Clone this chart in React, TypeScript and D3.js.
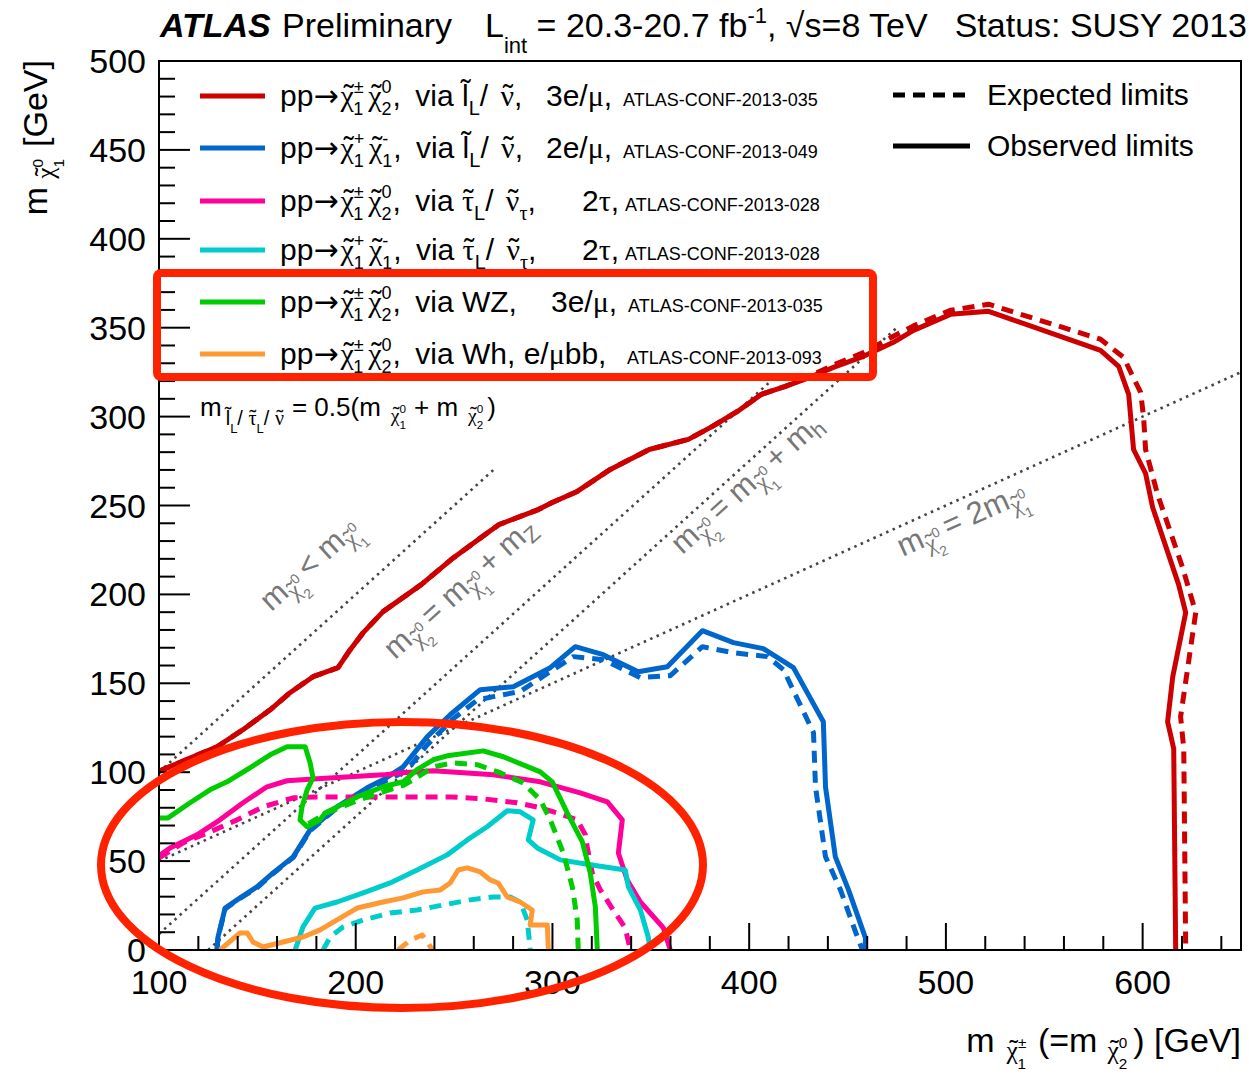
import React from "react";
import * as d3 from "d3";

// ---------- data (GeV) ----------
const X_DOMAIN = [100, 650];
const Y_DOMAIN = [0, 500];
const X_MAJOR = [100, 200, 300, 400, 500, 600];
const Y_MAJOR = [0, 50, 100, 150, 200, 250, 300, 350, 400, 450, 500];

const RED_OBS = [[100,100.5],[115.8,108],[129.5,114.3],[142.7,123.9],[156.5,135.1],[166.6,144.7],[178.3,153.7],[191,158.8],[197.2,168.9],[203.8,178.5],[213.9,190.3],[233.3,205.5],[248.5,219.6],[267.9,235.4],[272.9,239.3],[292.8,247.7],[299.9,251.7],[312.6,257.9],[329.4,270.3],[349.2,281.5],[369.1,287.2],[381.3,294.5],[394,302.9],[406.2,312.5],[418.4,317],[428.1,320.9],[442.8,327.7],[458.1,333.9],[473.3,341.8],[483.5,348.5],[502.3,357.5],[521.7,359.2],[578.6,337.3],[587.8,328.3],[592.9,312.5],[595.4,281.5],[601.5,268],[605.1,248.9],[618.3,205.5],[621.9,189.8],[615.3,153.7],[612.7,128.4],[615.8,113.2],[616.8,0]];
const RED_EXP = [[100,100.5],[115.8,108],[129.5,114.3],[142.7,123.9],[156.5,135.1],[166.6,144.7],[178.3,153.7],[191,158.8],[197.2,168.9],[203.8,178.5],[213.9,190.3],[233.3,205.5],[248.5,219.6],[267.9,235.4],[272.9,239.3],[292.8,247.7],[299.9,251.7],[312.6,257.9],[329.4,270.3],[349.2,281.5],[369.1,287.2],[381.3,294.5],[394,302.9],[406.2,312.5],[418.4,317],[428.1,321.5],[442.8,329],[458.1,336],[473.3,345.2],[483.5,351],[502.3,359.8],[521.7,363.2],[578.6,343.5],[590.3,333.3],[599,313.6],[600.5,299.5],[601.5,281.5],[607.6,256.2],[620.3,215.1],[627,189.8],[619.3,131.2],[620.9,113.2],[621.9,0]];

const BLUE_OBS = [[129.5,0],[130,7.3],[133.6,23.6],[139.7,28.2],[149.8,35.5],[158,43.4],[168.2,52.4],[176.8,67.6],[190.5,80.5],[205.8,91.2],[213.9,95.7],[224.1,103],[236.3,119.9],[248,132.3],[263.3,146.4],[280.1,148.1],[298.9,158.8],[311.6,170.6],[325.8,166.1],[343.6,156.5],[358.4,159.3],[376.2,179.6],[392,172.9],[407.2,169.5],[422.5,158.8],[437.7,128.4],[438.8,91.8],[443.8,52.4],[450.5,33.8],[459.1,6.8],[459.1,0]];
const BLUE_EXP = [[129.5,0],[130,7],[133.6,23],[139.7,28],[149.8,35],[158,43],[168.2,52],[176.8,67],[190.5,80],[205.8,90.5],[214,94.5],[226,101],[236,115],[249.5,130],[261.7,140.5],[269.9,142.5],[283.6,145.4],[297.4,155.5],[310.6,165],[325.8,163.3],[344.7,153.2],[359.9,154.3],[376.2,170.6],[392,167.2],[409.3,165],[417.4,157.7],[432.7,122.2],[433.7,91.8],[438.8,52.4],[446.4,33.8],[455,7.3],[457.6,0]];

const PINK_OBS = [[100,53],[105.6,57.4],[119.3,64.8],[131,73.2],[142.7,82.8],[154.9,91.8],[165.1,95.2],[180.4,96.3],[197.2,97.4],[213.9,98.5],[224.1,99.7],[239.4,100.8],[269.9,98.5],[293.8,94.6],[314.1,88.4],[327.9,83.3],[335.5,73.2],[333.5,54.6],[338,39.4],[344.7,27],[356.4,12.4],[359.9,0]];
const PINK_EXP = [[100,51.8],[112.2,60.2],[125.9,66.4],[139.7,73.2],[152.9,80.5],[168.2,85.6],[180.4,86.1],[213.9,86.1],[248,86.1],[264.8,85],[282.1,82.8],[293.8,80],[302.4,77.1],[312.6,73.2],[316.7,64.8],[317.7,58],[320.2,43.4],[324.3,33.8],[330.9,22.5],[337,12.4],[339.6,0]];

const CYAN_OBS = [[169.2,0],[173.2,13],[179.3,23.6],[190.5,27],[203.8,32.1],[217.5,37.7],[231.2,45],[246.5,53.5],[256.7,61.9],[266.8,69.3],[277,78.3],[283.6,77.7],[290.2,73.2],[287.7,61.9],[292.3,57.4],[304,50.7],[319.2,47.9],[337,45],[338.6,35.5],[344.7,22.5],[348.7,7.3],[349.7,0]];
const CYAN_EXP = [[183.4,0],[187,7.3],[193.6,13],[203.8,16.9],[217.5,20.8],[231.2,22.5],[244.5,25.3],[258.2,28.2],[269.9,29.8],[278.5,29.8],[283.6,27],[287.2,16.9],[288.7,0]];

const GREEN_OBS = [[100,74.3],[104.6,74.3],[115.8,82.8],[125.9,90.1],[134.6,94.6],[146.3,102.5],[156.5,109.8],[165.1,114.3],[174.3,114.3],[176.8,105.3],[178.3,96.8],[175.3,90.1],[172.7,80.5],[171.7,73.2],[175.3,69.3],[181.9,73.2],[184.4,77.1],[190.5,80.5],[200.7,86.1],[213.9,91.8],[224.1,94.6],[231.2,101.4],[239.4,107],[246.5,109.2],[264.8,112],[275,108.7],[293.8,100.2],[299.9,94.6],[307.5,77.1],[315.2,60.8],[319.2,43.4],[321.8,24.2],[322.8,0]];
const GREEN_EXP = [[176,71],[185,77],[200.7,84],[214,89],[224,92.5],[229.2,95.7],[239.4,103],[249.5,105.3],[261.7,104.2],[273.4,99.7],[285.1,94],[293.8,84.5],[298.9,73.2],[305.5,54.6],[310.1,35.5],[312.6,16.9],[313.1,0]];

const ORANGE_OBS = [[131,0],[141.2,9.6],[144.8,9.6],[147.8,4.5],[152.9,1.7],[163.1,4.5],[173.2,7.3],[181.9,11.3],[190.5,16.9],[200.7,23.6],[213.9,27],[224.1,29.3],[234.3,32.7],[243,33.8],[248,37.7],[252.1,45],[256.7,46.2],[263.3,43.9],[268.4,39.4],[272.4,37.7],[277,29.8],[283.6,27],[289.7,22.5],[288.7,14.1],[297.4,14.1],[297.9,0]];
const ORANGE_EXP = [[221.6,0],[227.7,5.6],[233.8,8.4],[236.8,3.9],[238.9,0]];

// kinematic reference lines
const LINE_EQUAL = [[100,100],[270,270]];
const LINE_MZ = [[100,9],[411,320]];
const LINE_MH = [[125,0],[475,350]];
const LINE_TWICE = [[100,50],[650,325]];

const COLORS = {
  red: "#cc0000",
  blue: "#0066cc",
  pink: "#ff0099",
  cyan: "#00cccc",
  green: "#00cc00",
  orange: "#ff9933",
};

const CONF_LABELS = [
  "ATLAS-CONF-2013-035",
  "ATLAS-CONF-2013-049",
  "ATLAS-CONF-2013-028",
  "ATLAS-CONF-2013-028",
  "ATLAS-CONF-2013-035",
  "ATLAS-CONF-2013-093",
];

// ---------- layout ----------
const W = 1249, H = 1076;
const PL = 159, PR = 1241, PT = 61, PB = 950;
const SANS = "'Liberation Sans', Arial, Helvetica, sans-serif";
const SERIF = "'Liberation Serif', 'Times New Roman', serif";

const xS = d3.scaleLinear().domain(X_DOMAIN).range([PL, PR]);
const yS = d3.scaleLinear().domain(Y_DOMAIN).range([PB, PT]);
const line = d3.line<number[]>().x(d => xS(d[0])).y(d => yS(d[1]));

const widthOf = (s: string, f: number) =>
  (({ "±": 0.584, "+": 0.584, "-": 0.333, "0": 0.556 } as any)[s] ?? 0.556) * f;

const GW: any = { "χ": 0.55, "ν": 0.5, "τ": 0.44 };
const TW = 0.333; // width of "˜" in em

// Greek letter with a tilde drawn above it (tilde first, then glyph pulled back under it)
function tilde(ch: string, fs: number, dx0 = 0, shift = 0) {
  const w = GW[ch] ?? 0.5;
  const off = (w - TW) / 2;
  return (
    <>
      <tspan fontFamily={SANS} fontSize={fs} baselineShift={shift + fs * 0.05} dx={dx0 + off * fs}>˜</tspan>
      <tspan fontFamily={SERIF} fontSize={fs} baselineShift={shift} dx={-(off + TW) * fs}>{ch}</tspan>
    </>
  );
}

// chi with stacked super/subscript, at normal size
function chi(fs: number, sup: string, sub: string, dx0 = 0) {
  const f = fs * 0.6;
  return (
    <>
      {tilde("χ", fs, dx0)}
      <tspan fontSize={f} baselineShift={fs * 0.45}>{sup}</tspan>
      <tspan fontSize={f} baselineShift={-fs * 0.3} dx={-widthOf(sup, f)}>{sub}</tspan>
    </>
  );
}
// chi used as a subscript of m
function subChi(fs: number, sup: string, sub: string, dx0 = 0) {
  const c = fs * 0.75, f = fs * 0.45;
  return (
    <>
      {tilde("χ", c, dx0, -fs * 0.22)}
      <tspan fontSize={f} baselineShift={fs * 0.12}>{sup}</tspan>
      <tspan fontSize={f} baselineShift={-fs * 0.5} dx={-widthOf(sup, f)}>{sub}</tspan>
    </>
  );
}

const Arrow = () => <tspan fontFamily="'DejaVu Sans', sans-serif">→</tspan>;
const Sub = ({ children, fs = 20, serif = false }: any) => (
  <tspan fontSize={fs} baselineShift={-9} fontFamily={serif ? SERIF : undefined}>{children}</tspan>
);
const G = ({ children, dx }: any) => <tspan fontFamily={SERIF} dx={dx}>{children}</tspan>;

function LegendRow({ y, color, idx, confX, children }: any) {
  return (
    <g>
      <line x1={200} x2={265} y1={y} y2={y} stroke={color} strokeWidth={5} />
      <text x={280} y={y + 10} fontSize={30} fontFamily={SANS} style={{ whiteSpace: "pre" }}>
        {children}
        <tspan x={confX} fontSize={18}>{CONF_LABELS[idx]}</tspan>
      </text>
    </g>
  );
}

function RefLabel({ x, y, angle, children }: any) {
  return (
    <text transform={`translate(${x},${y}) rotate(${angle})`} fontSize={31} fill="#777"
      fontFamily={SANS} style={{ whiteSpace: "pre" }}>
      {children}
    </text>
  );
}

export default function App() {
  const xMinor = d3.range(100, 650, 20);
  const yMinor = d3.range(0, 501, 10);
  const ang1 = (Math.atan2(yS(270) - yS(100), xS(270) - xS(100)) * 180) / Math.PI;
  const ang2 = (Math.atan2(yS(325) - yS(50), xS(650) - xS(100)) * 180) / Math.PI;

  const curves: [number[][], string, boolean][] = [
    [RED_EXP, COLORS.red, true], [RED_OBS, COLORS.red, false],
    [BLUE_EXP, COLORS.blue, true], [BLUE_OBS, COLORS.blue, false],
    [PINK_EXP, COLORS.pink, true], [PINK_OBS, COLORS.pink, false],
    [CYAN_EXP, COLORS.cyan, true], [CYAN_OBS, COLORS.cyan, false],
    [GREEN_EXP, COLORS.green, true], [GREEN_OBS, COLORS.green, false],
    [ORANGE_EXP, COLORS.orange, true], [ORANGE_OBS, COLORS.orange, false],
  ];

  return (
    <svg width={W} height={H} style={{ position: "absolute", left: 0, top: 0, background: "#fff" }}
      fontFamily={SANS}>
      <defs>
        <clipPath id="plot"><rect x={PL} y={PT} width={PR - PL} height={PB - PT} /></clipPath>
      </defs>
      <rect width={W} height={H} fill="#fff" />

      {/* title */}
      <text x={160} y={37} fontSize={34} fontWeight="bold" fontStyle="italic">ATLAS</text>
      <text x={282} y={37} fontSize={34}>Preliminary</text>
      <text x={485} y={37} fontSize={34} style={{ whiteSpace: "pre" }}>
        L<tspan fontSize={22} baselineShift={-16}>int</tspan> = 20.3-20.7 fb<tspan fontSize={22} baselineShift={14}>-1</tspan>, √s=8 TeV
      </text>
      <text x={1247} y={37} fontSize={34} textAnchor="end">Status: SUSY 2013</text>

      {/* reference lines */}
      <g clipPath="url(#plot)" stroke="#444" strokeWidth={2.6} strokeDasharray="2.5 4.5" fill="none">
        {[LINE_EQUAL, LINE_MZ, LINE_MH, LINE_TWICE].map((l, i) => (
          <path key={i} d={line(l) as string} />
        ))}
      </g>

      {/* contours */}
      <g clipPath="url(#plot)" fill="none" strokeWidth={5} strokeLinejoin="round">
        {curves.map(([d, c, dashed], i) => (
          <path key={i} d={line(d) as string} stroke={c} strokeDasharray={dashed ? "12 8" : undefined} />
        ))}
      </g>

      {/* reference line labels */}
      <RefLabel x={xS(157)} y={yS(190)} angle={ang1}>
        m{subChi(31, "0", "2")}<tspan dx={6}>&lt; m</tspan>{subChi(31, "0", "1")}
      </RefLabel>
      <RefLabel x={xS(220)} y={yS(163)} angle={ang1}>
        m{subChi(31, "0", "2")}<tspan dx={6}>= m</tspan>{subChi(31, "0", "1")}<tspan dx={6}>+ m</tspan><tspan fontSize={22} baselineShift={-6}>Z</tspan>
      </RefLabel>
      <RefLabel x={xS(366)} y={yS(222)} angle={ang1}>
        m{subChi(31, "0", "2")}<tspan dx={6}>= m</tspan>{subChi(31, "0", "1")}<tspan dx={6}>+ m</tspan><tspan fontSize={22} baselineShift={-6}>h</tspan>
      </RefLabel>
      <RefLabel x={xS(478)} y={yS(221)} angle={ang2}>
        m{subChi(31, "0", "2")}<tspan dx={6}>= 2m</tspan>{subChi(31, "0", "1")}
      </RefLabel>

      {/* frame */}
      <rect x={PL} y={PT} width={PR - PL} height={PB - PT} fill="none" stroke="#000" strokeWidth={2} />

      {/* ticks */}
      <g stroke="#000" strokeWidth={2}>
        {xMinor.map(v => {
          const major = X_MAJOR.includes(v);
          return <line key={"x" + v} x1={xS(v)} x2={xS(v)} y1={PB} y2={PB - (major ? 27 : 14)} />;
        })}
        {yMinor.map(v => {
          const major = Y_MAJOR.includes(v);
          return <line key={"y" + v} x1={PL} x2={PL + (major ? 31 : 16)} y1={yS(v)} y2={yS(v)} />;
        })}
      </g>
      <g fontSize={34}>
        {X_MAJOR.map(v => (
          <text key={v} x={xS(v)} y={994} textAnchor="middle">{v}</text>
        ))}
        {Y_MAJOR.map(v => (
          <text key={v} x={146} y={yS(v) + 12} textAnchor="end">{v}</text>
        ))}
      </g>

      {/* axis titles */}
      <text x={1241} y={1052} fontSize={34} textAnchor="end" style={{ whiteSpace: "pre" }}>
        m{subChi(34, "±", "1", 12)}<tspan dx={12}>(=m</tspan>{subChi(34, "0", "2", 10)}<tspan dx={6}>) [GeV]</tspan>
      </text>
      <text transform="translate(47,60) rotate(-90)" fontSize={34} textAnchor="end" style={{ whiteSpace: "pre" }}>
        m{subChi(34, "0", "1", 8)}<tspan dx={12}>[GeV]</tspan>
      </text>

      {/* legend (channels) */}
      <LegendRow y={96} color={COLORS.red} idx={0} confX={623}>
        pp<Arrow />{chi(30, "±", "1", 2)}{chi(30, "0", "2", 5)}<tspan dx={1}>, </tspan><tspan dx={6}>via l̃</tspan><Sub>L</Sub>/ {tilde("ν", 30, 4)},<tspan x={546}>3e/</tspan><G>μ</G>,
      </LegendRow>
      <LegendRow y={148} color={COLORS.blue} idx={1} confX={623}>
        pp<Arrow />{chi(30, "+", "1", 2)}{chi(30, "-", "1", 5)}<tspan dx={1}>, </tspan><tspan dx={6}>via l̃</tspan><Sub>L</Sub>/ {tilde("ν", 30, 4)},<tspan x={546}>2e/</tspan><G>μ</G>,
      </LegendRow>
      <LegendRow y={201} color={COLORS.pink} idx={2} confX={625}>
        pp<Arrow />{chi(30, "±", "1", 2)}{chi(30, "0", "2", 5)}<tspan dx={1}>, </tspan><tspan dx={6}>via </tspan>{tilde("τ", 30)}<Sub>L</Sub>/ {tilde("ν", 30, 4)}<Sub serif>τ</Sub>,<tspan x={582}>2</tspan><G>τ</G>,
      </LegendRow>
      <LegendRow y={250} color={COLORS.cyan} idx={3} confX={625}>
        pp<Arrow />{chi(30, "+", "1", 2)}{chi(30, "-", "1", 5)}<tspan dx={1}>, </tspan><tspan dx={6}>via </tspan>{tilde("τ", 30)}<Sub>L</Sub>/ {tilde("ν", 30, 4)}<Sub serif>τ</Sub>,<tspan x={582}>2</tspan><G>τ</G>,
      </LegendRow>
      <LegendRow y={302} color={COLORS.green} idx={4} confX={628}>
        pp<Arrow />{chi(30, "±", "1", 2)}{chi(30, "0", "2", 5)}<tspan dx={1}>, </tspan><tspan dx={6}>via WZ,</tspan><tspan x={551}>3e/</tspan><G>μ</G>,
      </LegendRow>
      <LegendRow y={354} color={COLORS.orange} idx={5} confX={627}>
        pp<Arrow />{chi(30, "±", "1", 2)}{chi(30, "0", "2", 5)}<tspan dx={1}>, </tspan><tspan dx={6}>via Wh, e/</tspan><G>μ</G>bb,
      </LegendRow>

      {/* legend (limit styles) */}
      <line x1={893} x2={970} y1={95} y2={95} stroke="#000" strokeWidth={5} strokeDasharray="12 8" />
      <text x={987} y={105} fontSize={30}>Expected limits</text>
      <line x1={893} x2={970} y1={146} y2={146} stroke="#000" strokeWidth={5} />
      <text x={987} y={156} fontSize={30}>Observed limits</text>

      {/* slepton mass assumption */}
      <text x={200} y={416} fontSize={26} style={{ whiteSpace: "pre" }}>
        m<tspan fontSize={20} baselineShift={-9} dx={4}>l̃</tspan><tspan fontSize={13} baselineShift={-17}>L</tspan><tspan fontSize={20} baselineShift={-9}>/ </tspan>{tilde("τ", 20, 0, -9)}<tspan fontSize={13} baselineShift={-17}>L</tspan><tspan fontSize={20} baselineShift={-9}>/ </tspan>{tilde("ν", 20, 0, -9)}<tspan dx={8}>= 0.5(m</tspan>{subChi(26, "0", "1", 10)}<tspan dx={8}>+ m</tspan>{subChi(26, "0", "2", 10)}<tspan dx={4}>)</tspan>
      </text>

      {/* red annotations */}
      <rect x={157} y={273} width={716} height={104} rx={4} fill="none" stroke="#ff2200" strokeWidth={8} />
      <ellipse cx={402} cy={865} rx={301} ry={143} fill="none" stroke="#ff2200" strokeWidth={8} />
    </svg>
  );
}
